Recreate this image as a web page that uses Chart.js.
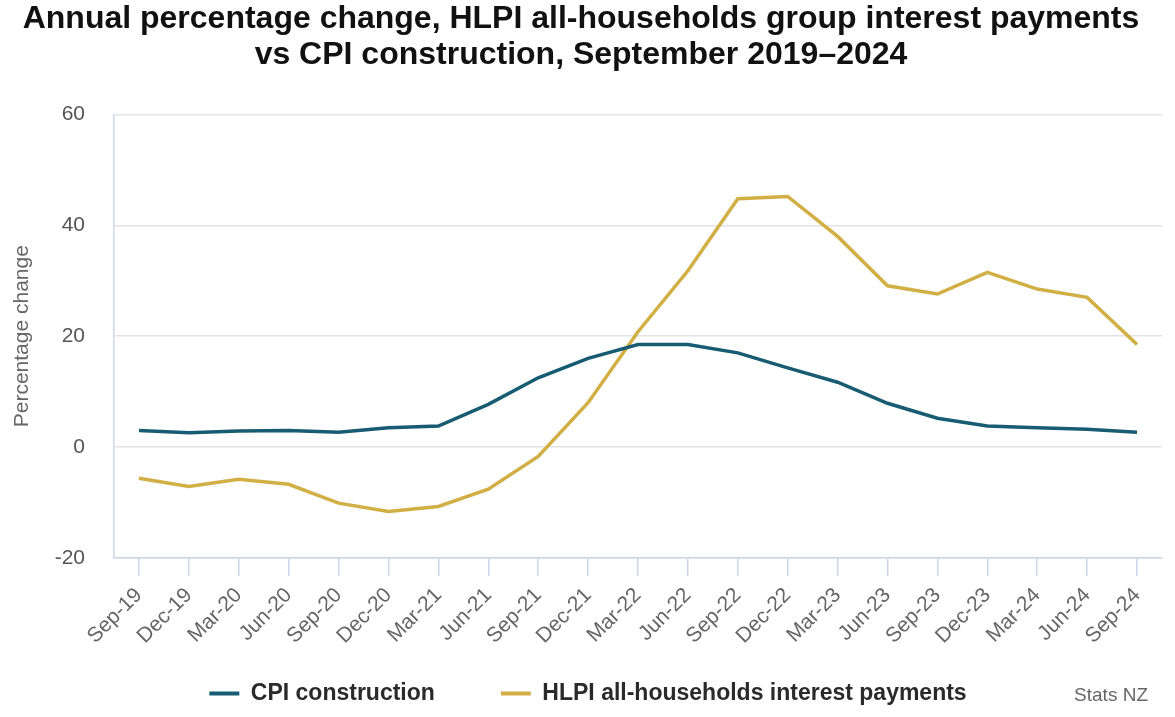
<!DOCTYPE html>
<html>
<head>
<meta charset="utf-8">
<script src="https://cdn.jsdelivr.net/npm/chart.js@4"></script>
<style>
    html, body { margin: 0; padding: 0; background: #fff; }
    #wrap { position: relative; width: 1175px; height: 717px; }
    #credit { position: absolute; right: 27px; top: 684px; font: 19px "Liberation Sans", Arial, sans-serif; color: #666; }
</style>
</head>
<body>
<div id="wrap">
    <canvas id="myChart" width="1175" height="717"></canvas>
    <div id="credit">Stats NZ</div>
</div>
<script>
// quarters, Sep 2019 - Sep 2024
const labels = ['Sep-19', 'Dec-19', 'Mar-20', 'Jun-20', 'Sep-20', 'Dec-20', 'Mar-21', 'Jun-21', 'Sep-21', 'Dec-21',
    'Mar-22', 'Jun-22', 'Sep-22', 'Dec-22', 'Mar-23', 'Jun-23', 'Sep-23', 'Dec-23', 'Mar-24', 'Jun-24', 'Sep-24'];

const cpiConstruction = [3.0, 2.6, 2.9, 3.0, 2.7, 3.5, 3.8, 7.7, 12.5, 16.0,
    18.5, 18.5, 17.0, 14.3, 11.7, 7.9, 5.2, 3.8, 3.5, 3.2, 2.7];

const hlpiInterest = [-5.6, -7.1, -5.8, -6.7, -10.1, -11.6, -10.7, -7.6, -1.7, 8.0,
    20.8, 31.8, 44.8, 45.2, 38.0, 29.1, 27.6, 31.5, 28.5, 27.0, 18.5];

const yTicks = [-20, 0, 20, 40, 60];

var fontFam = '"Liberation Sans", Arial, sans-serif';

// nudge the legend a little to the right, like the original
var legendShift = {
    id: 'legendShift',
    afterLayout: function (chart) {
        if (chart.legend) {
            chart.legend.left += 7;
            chart.legend.right += 7;
        }
    }
};

const data = {
    labels: labels,
    datasets: [{
        label: 'CPI construction',
        data: cpiConstruction,
        borderColor: '#185c73',
        backgroundColor: '#185c73',
        borderWidth: 3.5,
        pointRadius: 0,
        tension: 0
    }, {
        label: 'HLPI all-households interest payments',
        data: hlpiInterest,
        borderColor: '#d2af45',
        backgroundColor: '#d2af45',
        borderWidth: 3.5,
        pointRadius: 0,
        tension: 0
    }]
};

const config = {
    type: 'line',
    data: data,
    plugins: [legendShift],
    options: {
        responsive: false,
        animation: false,
        layout: { padding: { left: 0, right: 13, top: 0, bottom: 2 } },
        plugins: {
            title: {
                display: true,
                text: ['Annual percentage change, HLPI all-households group interest payments',
                    'vs CPI construction, September 2019\u20132024'],
                color: '#111',
                font: { family: fontFam, size: 32, weight: 'bold', lineHeight: 1.1 },
                padding: { top: 2, bottom: 42 }
            },
            legend: {
                position: 'bottom',
                labels: {
                    usePointStyle: true,
                    pointStyle: 'line',
                    pointStyleWidth: 30,
                    color: '#2a2a2a',
                    font: { family: fontFam, size: 23, weight: 'bold' },
                    padding: 20,
                    generateLabels: function (chart) {
                        var items = Chart.defaults.plugins.legend.labels.generateLabels(chart);
                        items.forEach(function (it) { it.lineWidth = 4; });
                        // wider gap after the first item
                        items[0].text = items[0].text + '\u2003\u2003';
                        return items;
                    }
                }
            },
            tooltip: { enabled: false }
        },
        scales: {
            x: {
                offset: true,
                afterFit: function (scale) { scale.height = 104; },
                grid: {
                    offset: false,
                    drawOnChartArea: false,
                    color: '#ccd6eb',
                    lineWidth: 1.5,
                    tickLength: 18
                },
                border: { color: '#ccd6eb', width: 1.5 },
                ticks: {
                    color: '#666',
                    font: { family: fontFam, size: 21 },
                    maxRotation: 45,
                    minRotation: 45,
                    padding: 7,
                    autoSkip: false
                }
            },
            y: {
                min: -20,
                max: 60,
                afterBuildTicks: function (axis) {
                    axis.ticks = yTicks.map(function (v) { return { value: v }; });
                },
                afterFit: function (scale) { scale.width = 114; },
                grid: { color: '#e3e3e3', drawTicks: false, lineWidth: 1.5 },
                border: { color: '#ccd6eb', width: 1.5 },
                ticks: {
                    color: '#555',
                    font: { family: fontFam, size: 21 },
                    padding: 29
                },
                title: {
                    display: true,
                    text: 'Percentage change',
                    color: '#666',
                    font: { family: fontFam, size: 21 },
                    padding: { top: 10, bottom: 0 }
                }
            }
        }
    }
};

var myChart = new Chart(document.getElementById('myChart'), config);
</script>
</body>
</html>
